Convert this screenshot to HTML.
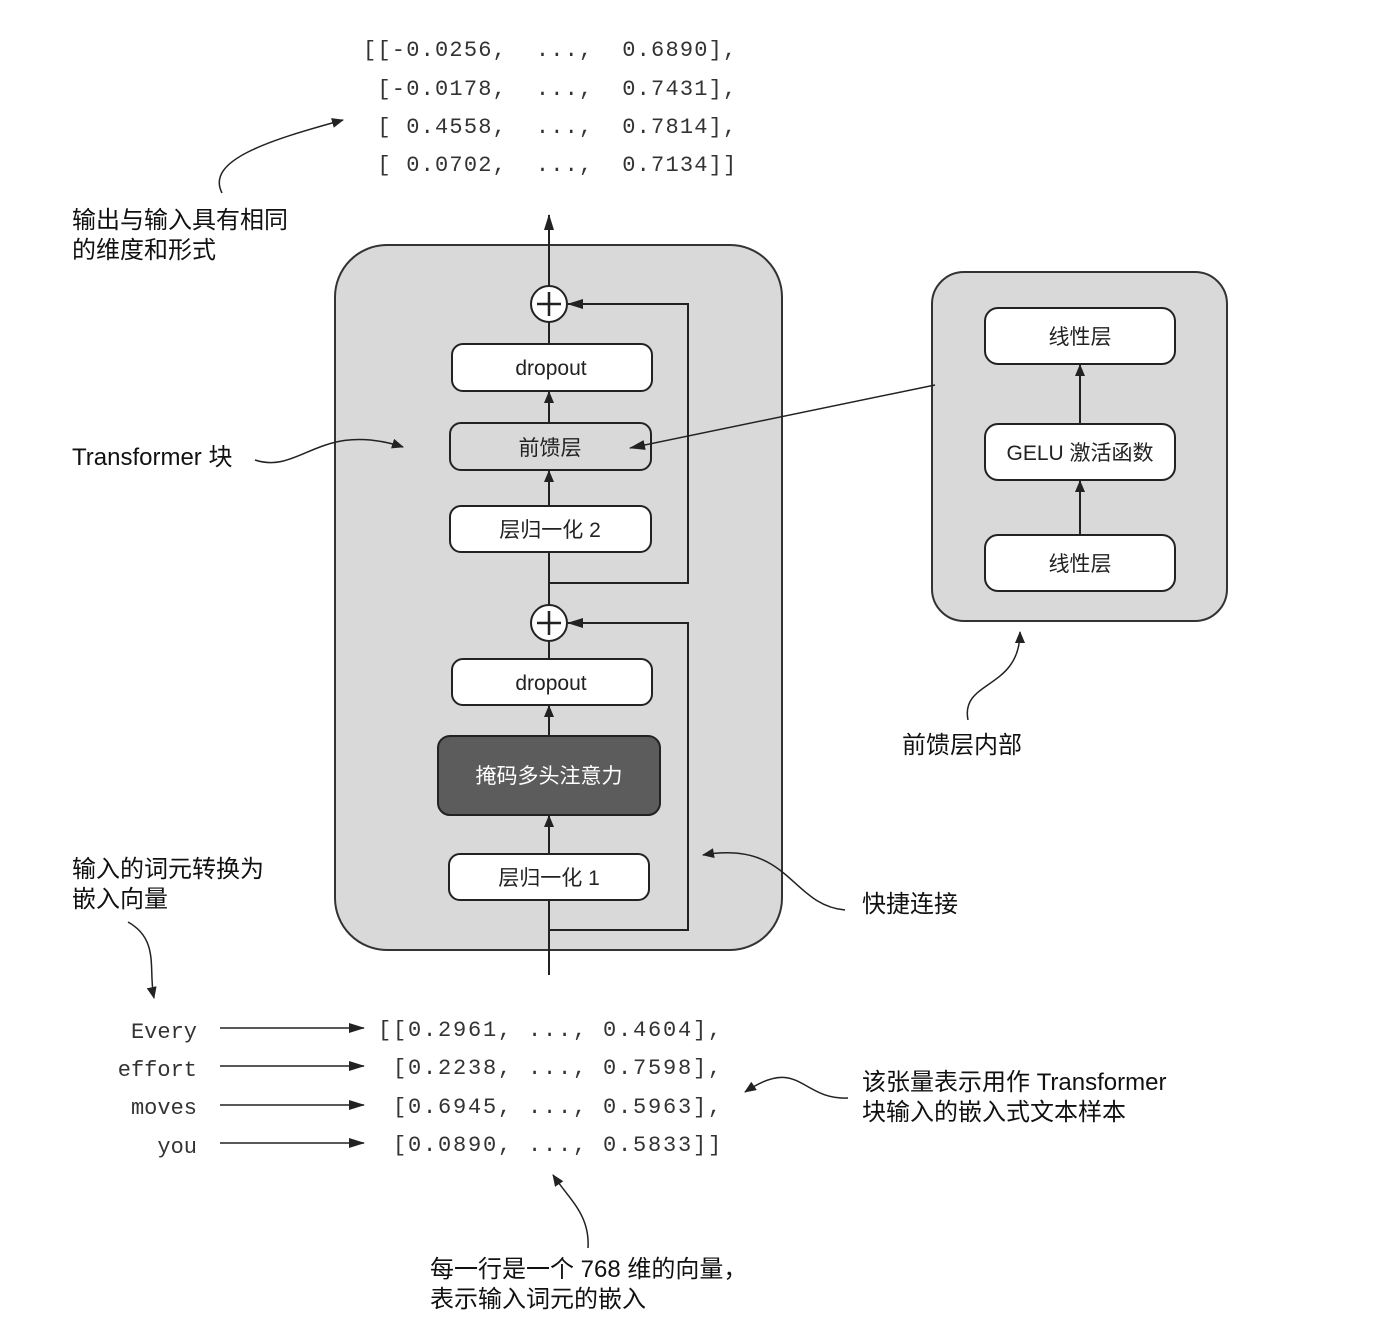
<!DOCTYPE html>
<html><head><meta charset="utf-8"><style>
body{margin:0;background:#fff;}
svg{display:block;}
.m{font-family:"Liberation Mono",monospace;font-size:22px;fill:#333;}
.t{font-family:"Liberation Sans","Noto Sans CJK SC",sans-serif;font-size:24px;fill:#111;}
.b{font-family:"Liberation Sans","Noto Sans CJK SC",sans-serif;font-size:21px;fill:#222;text-anchor:middle;}
</style></head><body>
<svg width="1380" height="1332" viewBox="0 0 1380 1332" xmlns="http://www.w3.org/2000/svg">
<defs>
<marker id="a" markerWidth="12" markerHeight="10" refX="11" refY="5" orient="auto" markerUnits="userSpaceOnUse"><path d="M0,0 L12,5 L0,10 z" fill="#222"/></marker>
<marker id="c" markerWidth="16" markerHeight="10" refX="15" refY="5" orient="auto" markerUnits="userSpaceOnUse"><path d="M0,0 L16,5 L0,10 z" fill="#222"/></marker>
</defs>
<g class="m" style="letter-spacing:1.2px">
<text x="363" y="56" xml:space="preserve">[[-0.0256,  ...,  0.6890],</text>
<text x="363" y="95" xml:space="preserve"> [-0.0178,  ...,  0.7431],</text>
<text x="363" y="133" xml:space="preserve"> [ 0.4558,  ...,  0.7814],</text>
<text x="363" y="171" xml:space="preserve"> [ 0.0702,  ...,  0.7134]]</text>
</g>
<path d="M222,193 C205,160 270,140 343,120" fill="none" stroke="#222" stroke-width="1.5" marker-end="url(#a)"/>
<text class="t" x="72" y="228">输出与输入具有相同</text>
<text class="t" x="72" y="258">的维度和形式</text>
<rect x="335" y="245" width="447" height="705" rx="52" fill="#d9d9d9" stroke="#333" stroke-width="2"/>
<line x1="549" y1="975" x2="549" y2="215" stroke="#222" stroke-width="2" marker-end="url(#c)"/>
<path d="M549,583 H688 V304 H568" fill="none" stroke="#222" stroke-width="2" marker-end="url(#c)"/>
<path d="M549,930 H688 V623 H568" fill="none" stroke="#222" stroke-width="2" marker-end="url(#c)"/>
<circle cx="549" cy="304" r="18" fill="#fff" stroke="#222" stroke-width="2"/>
<path d="M537,304 H561 M549,292 V316" stroke="#222" stroke-width="2.5"/>
<circle cx="549" cy="623" r="18" fill="#fff" stroke="#222" stroke-width="2"/>
<path d="M537,623 H561 M549,611 V635" stroke="#222" stroke-width="2.5"/>
<rect x="452" y="344" width="200" height="47" rx="11" fill="#fff" stroke="#222" stroke-width="2"/>
<text class="b" x="551" y="375">dropout</text>
<rect x="450" y="423" width="201" height="47" rx="11" fill="#d9d9d9" stroke="#222" stroke-width="2"/>
<text class="b" x="550" y="455">前馈层</text>
<rect x="450" y="506" width="201" height="46" rx="11" fill="#fff" stroke="#222" stroke-width="2"/>
<text class="b" x="550" y="537">层归一化 2</text>
<rect x="452" y="659" width="200" height="46" rx="11" fill="#fff" stroke="#222" stroke-width="2"/>
<text class="b" x="551" y="690">dropout</text>
<rect x="438" y="736" width="222" height="79" rx="12" fill="#5c5c5c" stroke="#222" stroke-width="2"/>
<text class="b" x="549" y="783" style="fill:#fff">掩码多头注意力</text>
<rect x="449" y="854" width="200" height="46" rx="11" fill="#fff" stroke="#222" stroke-width="2"/>
<text class="b" x="549" y="885">层归一化 1</text>
<line x1="549" y1="423" x2="549" y2="392" stroke="#222" stroke-width="2" marker-end="url(#a)"/>
<line x1="549" y1="506" x2="549" y2="471" stroke="#222" stroke-width="2" marker-end="url(#a)"/>
<line x1="549" y1="736" x2="549" y2="706" stroke="#222" stroke-width="2" marker-end="url(#a)"/>
<line x1="549" y1="854" x2="549" y2="816" stroke="#222" stroke-width="2" marker-end="url(#a)"/>
<line x1="549" y1="659" x2="549" y2="641" stroke="#222" stroke-width="2"/>
<rect x="932" y="272" width="295" height="349" rx="32" fill="#d9d9d9" stroke="#333" stroke-width="2"/>
<rect x="985" y="308" width="190" height="56" rx="13" fill="#fff" stroke="#222" stroke-width="2"/>
<text class="b" x="1080" y="344">线性层</text>
<rect x="985" y="424" width="190" height="56" rx="13" fill="#fff" stroke="#222" stroke-width="2"/>
<text class="b" x="1080" y="460">GELU 激活函数</text>
<rect x="985" y="535" width="190" height="56" rx="13" fill="#fff" stroke="#222" stroke-width="2"/>
<text class="b" x="1080" y="571">线性层</text>
<line x1="1080" y1="424" x2="1080" y2="365" stroke="#222" stroke-width="2" marker-end="url(#a)"/>
<line x1="1080" y1="535" x2="1080" y2="481" stroke="#222" stroke-width="2" marker-end="url(#a)"/>
<line x1="935" y1="385" x2="630" y2="448" stroke="#222" stroke-width="1.5" marker-end="url(#c)"/>
<text class="t" x="72" y="465">Transformer 块</text>
<path d="M255,460 C300,475 320,420 403,447" fill="none" stroke="#222" stroke-width="1.5" marker-end="url(#a)"/>
<text class="t" x="902" y="753">前馈层内部</text>
<path d="M968,720 C960,680 1020,690 1020,632" fill="none" stroke="#222" stroke-width="1.5" marker-end="url(#a)"/>
<text class="t" x="862" y="912">快捷连接</text>
<path d="M845,910 C790,905 790,840 703,855" fill="none" stroke="#222" stroke-width="1.5" marker-end="url(#a)"/>
<text class="t" x="72" y="877">输入的词元转换为</text>
<text class="t" x="72" y="907">嵌入向量</text>
<path d="M128,922 C160,940 148,970 154,998" fill="none" stroke="#222" stroke-width="1.5" marker-end="url(#a)"/>
<g class="m" style="text-anchor:end">
<text x="197" y="1038">Every</text>
<text x="197" y="1076">effort</text>
<text x="197" y="1114">moves</text>
<text x="197" y="1153">you</text>
</g>
<g stroke="#222" stroke-width="1.5">
<line x1="220" y1="1028" x2="364" y2="1028" marker-end="url(#c)"/>
<line x1="220" y1="1066" x2="364" y2="1066" marker-end="url(#c)"/>
<line x1="220" y1="1105" x2="364" y2="1105" marker-end="url(#c)"/>
<line x1="220" y1="1143" x2="364" y2="1143" marker-end="url(#c)"/>
</g>
<g class="m" style="letter-spacing:1.8px">
<text x="378" y="1036" xml:space="preserve">[[0.2961, ..., 0.4604],</text>
<text x="378" y="1074" xml:space="preserve"> [0.2238, ..., 0.7598],</text>
<text x="378" y="1113" xml:space="preserve"> [0.6945, ..., 0.5963],</text>
<text x="378" y="1151" xml:space="preserve"> [0.0890, ..., 0.5833]]</text>
</g>
<text class="t" x="862" y="1090">该张量表示用作 Transformer</text>
<text class="t" x="862" y="1120">块输入的嵌入式文本样本</text>
<path d="M848,1098 C800,1100 800,1055 745,1092" fill="none" stroke="#222" stroke-width="1.5" marker-end="url(#a)"/>
<text class="t" x="430" y="1277">每一行是一个 768 维的向量，</text>
<text class="t" x="430" y="1307">表示输入词元的嵌入</text>
<path d="M588,1248 C590,1215 570,1200 553,1175" fill="none" stroke="#222" stroke-width="1.5" marker-end="url(#a)"/>
</svg>
</body></html>
